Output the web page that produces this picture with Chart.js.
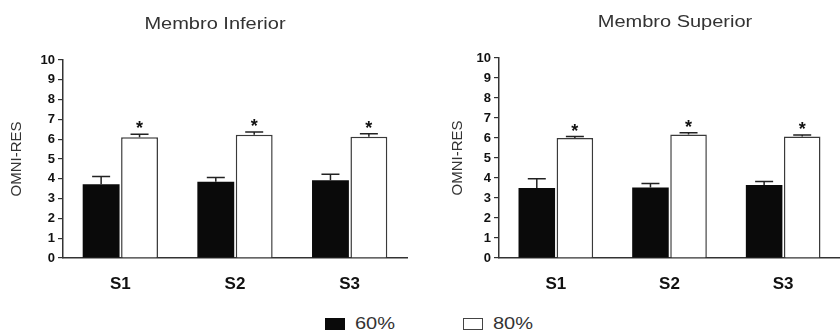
<!DOCTYPE html>
<html><head><meta charset="utf-8">
<script src="https://cdn.jsdelivr.net/npm/chart.js@4.4.1/dist/chart.umd.min.js"></script>
<style>
html,body{margin:0;padding:0;background:#fff;width:840px;height:331px;overflow:hidden;font-family:"Liberation Sans",Arial,sans-serif;}
#c1{position:absolute;left:0;top:0;}
#c2{position:absolute;left:420px;top:0;}
.legtxt{position:absolute;top:315px;font-size:16px;line-height:18px;color:#333;transform:scaleX(1.25);transform-origin:0 0;}
.legbox{position:absolute;top:318px;width:20px;height:12px;box-sizing:border-box;}
</style></head><body>
<canvas id="c1" width="420" height="300"></canvas>
<canvas id="c2" width="420" height="300"></canvas>
<div id="legend"></div>
<script>
const categories = ['S1', 'S2', 'S3'];
const seriesNames = ['60%', '80%'];
const yTicks = [0, 1, 2, 3, 4, 5, 6, 7, 8, 9, 10];
const yAxisLabel = 'OMNI-RES';

const inferiorTitle = 'Membro Inferior';
const inferior60 = [3.72, 3.85, 3.93];
const inferior60Err = [0.40, 0.22, 0.30];
const inferior80 = [6.10, 6.22, 6.12];
const inferior80Err = [0.15, 0.14, 0.16];

const superiorTitle = 'Membro Superior';
const superior60 = [3.50, 3.53, 3.65];
const superior60Err = [0.46, 0.20, 0.18];
const superior80 = [6.00, 6.17, 6.07];
const superior80Err = [0.07, 0.09, 0.08];

const significant = [true, true, true];

const decor = {
  id: 'decor',
  afterDatasetsDraw(chart, args, opts) {
    const ctx = chart.ctx, ys = chart.scales.y;
    chart.data.datasets.forEach((ds, i) => {
      const meta = chart.getDatasetMeta(i);
      meta.data.forEach((bar, j) => {
        const v = ds.data[j], e = ds.errors[j];
        const yTop = ys.getPixelForValue(v + e);
        ctx.save();
        ctx.strokeStyle = '#222';
        ctx.lineWidth = 1.5;
        ctx.beginPath();
        ctx.moveTo(bar.x, bar.y);
        ctx.lineTo(bar.x, yTop);
        ctx.moveTo(bar.x - 9, yTop);
        ctx.lineTo(bar.x + 9, yTop);
        ctx.stroke();
        if (ds.stars && ds.stars[j]) {
          ctx.fillStyle = '#111';
          ctx.font = 'bold 18px "Liberation Sans", Arial, sans-serif';
          ctx.textAlign = 'center';
          ctx.textBaseline = 'alphabetic';
          ctx.fillText('*', bar.x, yTop);
        }
        ctx.restore();
      });
    });
    ctx.save();
    ctx.font = '16px "Liberation Sans", Arial, sans-serif';
    ctx.fillStyle = '#333';
    ctx.textAlign = 'center';
    ctx.textBaseline = 'middle';
    ctx.translate(opts.x, opts.y);
    ctx.scale(1.25, 1);
    ctx.fillText(opts.text, 0, 0);
    ctx.restore();
  }
};

function makeChart(id, title, titleX, titleY, d60, e60, d80, e80, pad, yWidth) {
  return new Chart(document.getElementById(id), {
    type: 'bar',
    plugins: [decor],
    data: {
      labels: categories,
      datasets: [
        { label: seriesNames[0], data: d60, errors: e60, backgroundColor: '#0a0a0a', borderWidth: 0 },
        { label: seriesNames[1], data: d80, errors: e80, stars: significant, backgroundColor: '#ffffff', borderColor: '#3a3a3a', borderWidth: 1.5 }
      ]
    },
    options: {
      responsive: false,
      animation: false,
      devicePixelRatio: 1,
      layout: { padding: pad },
      datasets: { bar: { categoryPercentage: 0.67, barPercentage: 0.96 } },
      plugins: {
        legend: { display: false },
        tooltip: { enabled: false },
        title: { display: false },
        decor: { text: title, x: titleX, y: titleY }
      },
      scales: {
        x: {
          grid: { display: false, drawTicks: false },
          border: { display: true, color: '#333', width: 1.5 },
          ticks: { color: '#111', padding: 16, font: { family: '"Liberation Sans", Arial, sans-serif', size: 17, weight: 'bold' } },
          afterFit(s) { s.height = 42; }
        },
        y: {
          min: 0, max: 10,
          afterBuildTicks(s) { s.ticks = yTicks.map(v => ({ value: v })); },
          grid: { drawOnChartArea: false, drawTicks: true, tickLength: 5, color: '#333', lineWidth: 1.2 },
          border: { display: true, color: '#333', width: 1.5 },
          ticks: { color: '#111', padding: 3, font: { family: '"Liberation Sans", Arial, sans-serif', size: 13, weight: 'bold' } },
          title: { display: true, text: yAxisLabel, color: '#333', padding: { top: 4, bottom: 4 }, font: { family: '"Liberation Sans", Arial, sans-serif', size: 15 } },
          afterFit(s) { s.width = yWidth; }
        }
      }
    }
  });
}

makeChart('c1', inferiorTitle, 215, 25, inferior60, inferior60Err, inferior80, inferior80Err, { top: 60, left: 4, right: 13, bottom: 0 }, 59);
makeChart('c2', superiorTitle, 255, 23, superior60, superior60Err, superior80, superior80Err, { top: 58, left: 25, right: 0, bottom: 0 }, 54);

const leg = document.getElementById('legend');
const legX = [325, 463];
const legFill = ['#0a0a0a', '#ffffff'];
seriesNames.forEach((name, i) => {
  const b = document.createElement('div');
  b.className = 'legbox';
  b.style.left = legX[i] + 'px';
  b.style.background = legFill[i];
  b.style.border = i === 1 ? '1.5px solid #444' : 'none';
  leg.appendChild(b);
  const t = document.createElement('div');
  t.className = 'legtxt';
  t.style.left = (legX[i] + 30) + 'px';
  t.textContent = name;
  leg.appendChild(t);
});
</script>
</body></html>
